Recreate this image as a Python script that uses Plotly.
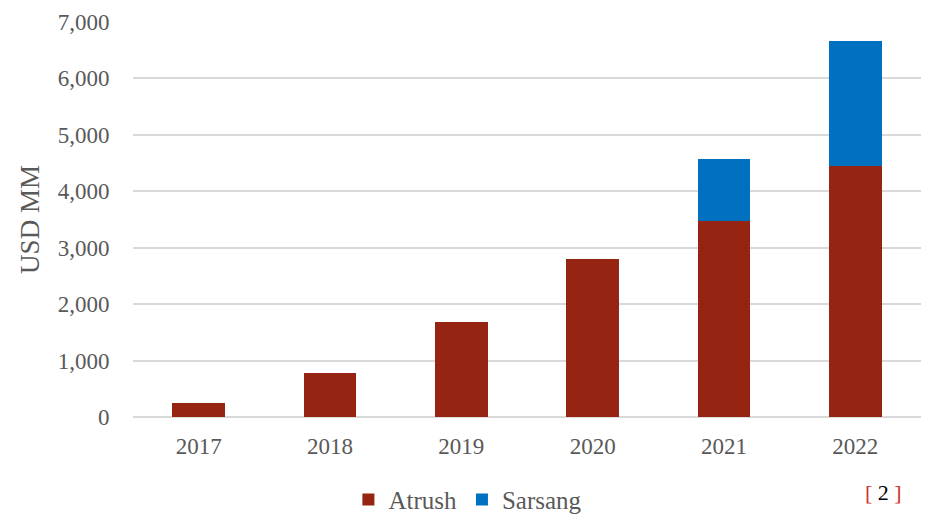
import plotly.graph_objects as go

years = ["2017", "2018", "2019", "2020", "2021", "2022"]
atrush = [250, 780, 1680, 2800, 3465, 4455]
sarsang = [0, 0, 0, 0, 1100, 2200]
y_ticks = [0, 1000, 2000, 3000, 4000, 5000, 6000, 7000]
y_tick_labels = ["0", "1,000", "2,000", "3,000", "4,000", "5,000", "6,000", "7,000"]

FONT = "Liberation Serif"
GREY = "#595959"

fig = go.Figure()
fig.add_trace(go.Bar(x=years, y=atrush, name="Atrush", marker_color="#962413",
                     marker_line_width=0, width=0.4))
fig.add_trace(go.Bar(x=years, y=[s if s else None for s in sarsang], name="Sarsang",
                     marker_color="#0070C0", marker_line_width=0, width=0.4))

fig.update_layout(
    width=922, height=506,
    barmode="stack",
    plot_bgcolor="white", paper_bgcolor="white",
    margin=dict(l=125, r=9, t=14, b=97, autoexpand=False),
    font=dict(family=FONT, size=23, color=GREY),
    showlegend=True,
    legend=dict(orientation="h", x=0.425, xanchor="center", yref="container",
                y=0.028, yanchor="middle",
                font=dict(family=FONT, size=25, color=GREY), itemwidth=30,
                traceorder="normal", tracegroupgap=0),
    xaxis=dict(showgrid=False, showline=False, ticks="outside", ticklen=8,
               automargin=False,
               tickcolor="rgba(0,0,0,0)", tickfont=dict(size=23, color=GREY)),
    yaxis=dict(range=[0, 7000], tickvals=y_ticks, ticktext=y_tick_labels,
               automargin=False,
               showgrid=True, gridcolor="#d9d9d9", gridwidth=1.5,
               zeroline=True, zerolinecolor="#d9d9d9", zerolinewidth=1.5,
               showline=False, ticks="outside", ticklen=18, tickcolor="rgba(0,0,0,0)",
               tickfont=dict(size=23, color=GREY),
               title=dict(text="USD MM", font=dict(size=27, color=GREY), standoff=10)),
    bargap=0.6,
)

fig.add_annotation(xref="paper", yref="paper", x=0.953, y=-0.19,
                   xanchor="center", yanchor="middle",
                   text="<span style='color:#d03030'>[</span> 2 <span style='color:#d03030'>]</span>",
                   showarrow=False, font=dict(family=FONT, size=22, color="black"))

fig.write_html("out.html")
